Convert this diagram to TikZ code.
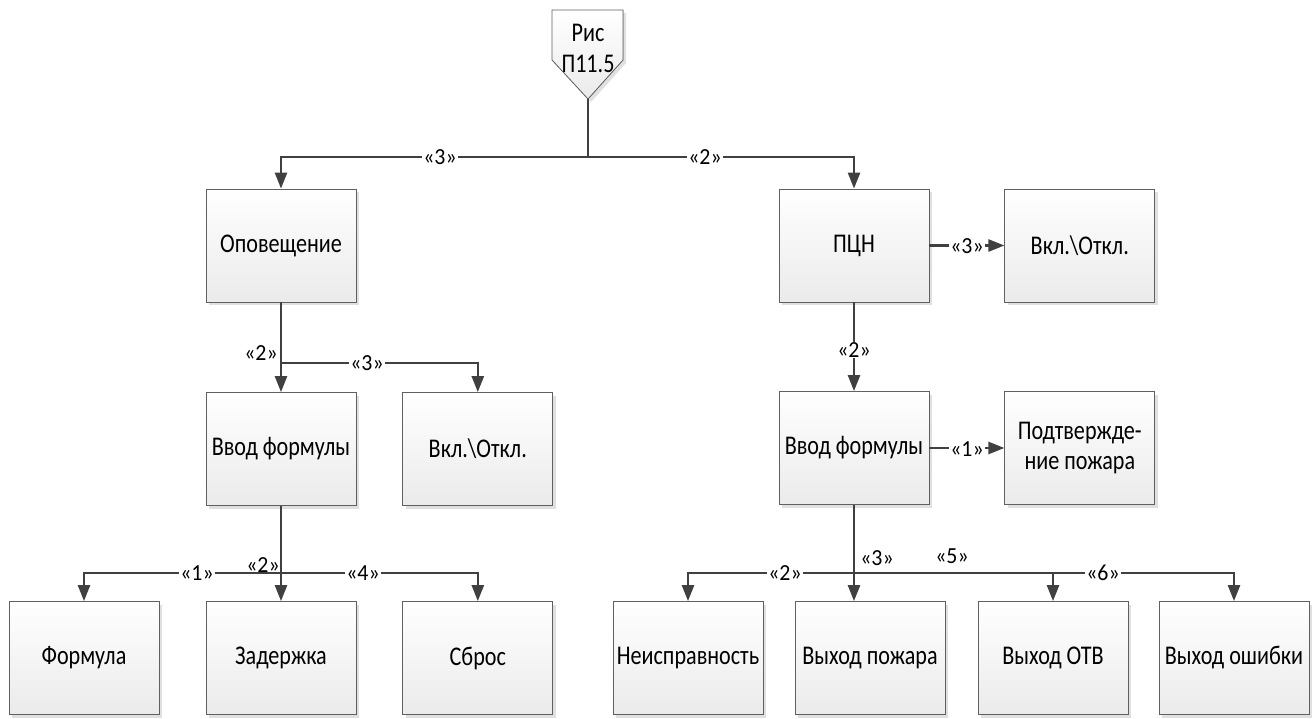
\documentclass[tikz,border=0pt]{standalone}
\usepackage{fontspec}
\newfontfamily\boxfont{Carlito}[FakeStretch=0.82]
\newfontfamily\lblfont{Carlito}[FakeStretch=0.95]
\usetikzlibrary{positioning,arrows.meta,calc,shadows}

\definecolor{linecol}{HTML}{404040}
\definecolor{edgecol}{HTML}{606060}

\begin{document}
\begin{tikzpicture}[
  x=1pt, y=-1pt,
  box/.style={rectangle, draw=edgecol, line width=0.8pt,
              top color=white, bottom color=black!8,
              minimum width=150pt, minimum height=113pt, align=center,
              font=\boxfont\fontsize{27}{30}\selectfont,
              drop shadow={shadow xshift=3pt, shadow yshift=-3pt,
                           fill=black!12, opacity=1}},
  conn/.style={draw=linecol, line width=2.5pt,
               -{Triangle[length=16pt,width=12pt]}},
  wire/.style={draw=linecol, line width=2.5pt},
  lbl/.style={font=\lblfont\fontsize{23}{24}\selectfont, inner sep=1pt},
  cut/.style={lbl, fill=white},
]
\useasboundingbox (0,0) rectangle (1314,718);

% root marker
\filldraw[draw=edgecol, line width=0.8pt, top color=white, bottom color=black!8,
  drop shadow={shadow xshift=3pt, shadow yshift=-3pt, fill=black!12, opacity=1}]
  (552,10) -- (623,10) -- (623,60) -- (588,99) -- (552,60) -- cycle;
\node[align=center, font=\boxfont\fontsize{27}{31}\selectfont] (fig) at (588,48) {Рис\\П11.5};
\coordinate (tip) at (588,99);
\coordinate (j0) at (588,157);

% left branch
\node[box] (opov) at (281,245.5) {Оповещение};
\node[box] (vvodL) at (281,449) {Ввод формулы};
\node[box, right=46pt of vvodL] (vklL) {Вкл.\textbackslash Откл.};
\node[box] (form) at (84,658) {Формула};
\node[box] (zad) at (281,658) {Задержка};
\node[box, right=46pt of zad] (sbros) {Сброс};

% right branch
\node[box] (pcn) at (854,245.5) {ПЦН};
\node[box, right=75pt of pcn] (vklR) {Вкл.\textbackslash Откл.};
\node[box] (vvodR) at (854,448) {Ввод формулы};
\node[box, right=75pt of vvodR] (podtv) {Подтвержде-\\ние пожара};
\node[box] (neispr) at (688,658) {Неисправность};
\node[box] (vpozh) at (870,658) {Выход пожара};
\node[box] (votv) at (1053,658) {Выход ОТВ};
\node[box] (voshib) at (1234,658) {Выход ошибки};

\coordinate (j1) at (281,363);
\coordinate (j2) at (281,573);
\coordinate (j3) at (854,573);

% connectors
\draw[wire] (tip) -- (j0);
\draw[conn] (j0) -| (opov.north);
\draw[conn] (j0) -| (pcn.north);

\draw[conn] (opov.south) -- (vvodL.north);
\draw[conn] (j1) -| (vklL.north);

\draw[conn] (vvodL.south) -- (zad.north);
\draw[conn] (j2) -| (form.north);
\draw[conn] (j2) -| (sbros.north);

\draw[conn] (pcn) -- (vklR);
\draw[conn] (pcn) -- (vvodR);
\draw[conn] (vvodR) -- (podtv);

\draw[conn] (vvodR.south) -- (vvodR.south |- vpozh.north);
\draw[conn] (j3) -| (neispr.north);
\draw[conn] (j3) -| (votv.north);
\draw[conn] (j3) -| (voshib.north);

% labels
\node[cut] (t3) at (440,157) {«3»};
\node[cut] (t2) at (705,157) {«2»};
\node[lbl] (o2) at (261,353) {«2»};
\node[cut] (o3) at (367,363) {«3»};
\node[cut] (v1) at (197,573) {«1»};
\node[lbl] (v2) at (263,565) {«2»};
\node[cut] (v4) at (363,573) {«4»};
\node[cut] (p3) at (967,246) {«3»};
\node[cut] (p2) at (854,350) {«2»};
\node[cut] (r1) at (967,449) {«1»};
\node[cut] (r2) at (785,573) {«2»};
\node[lbl] (r3) at (877,558) {«3»};
\node[lbl] (r5) at (952,556) {«5»};
\node[cut] (r6) at (1103,573) {«6»};
\end{tikzpicture}
\end{document}
